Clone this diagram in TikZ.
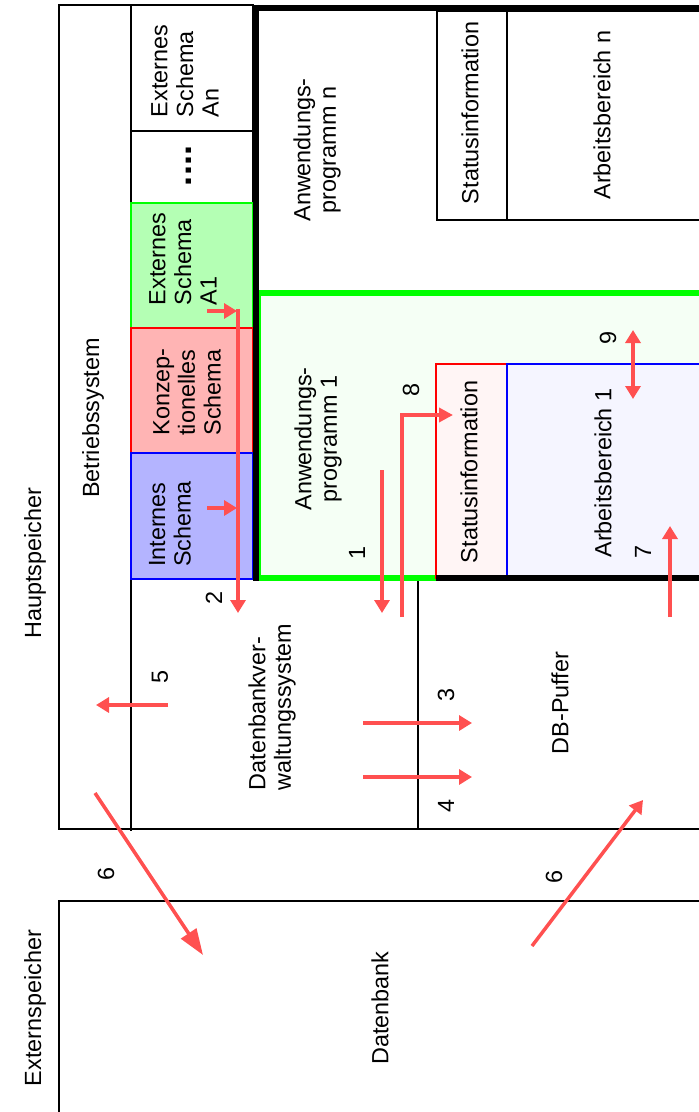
\documentclass[tikz,border=0pt]{standalone}
\usepackage{fontspec}
\setmainfont{Liberation Sans}
\usetikzlibrary{arrows.meta}
\definecolor{arrowred}{RGB}{255,80,80}
\definecolor{brightgreen}{RGB}{0,255,0}
\definecolor{schemagreen}{RGB}{180,255,180}
\definecolor{schemared}{RGB}{255,180,180}
\definecolor{schemablue}{RGB}{180,180,255}
\definecolor{palegreen}{RGB}{245,255,245}
\definecolor{palered}{RGB}{255,245,245}
\definecolor{paleblue}{RGB}{245,245,255}
\begin{document}
\begin{tikzpicture}[x=0.5pt,y=-0.5pt,
  lbl/.style={rotate=90, inner sep=0pt, font=\fontsize{11.7}{12.8}\selectfont},
  lbll/.style={lbl, align=left},
  lblc/.style={lbl, align=center},
  thinline/.style={line width=0.6pt, black},
  thickblack/.style={line width=3pt, black},
  thickgreen/.style={line width=3pt, brightgreen},
  arr/.style={draw=arrowred, line width=1.75pt, -{Triangle[length=6.5pt,width=7.5pt]}},
  arrbig/.style={draw=arrowred, line width=1.75pt, -{Triangle[length=13pt,width=9pt]}},
  arrboth/.style={draw=arrowred, line width=1.75pt, {Triangle[length=6.5pt,width=7.5pt]}-{Triangle[length=6.5pt,width=7.5pt]}},
  arrthick/.style={draw=arrowred, line width=2.4pt, -{Triangle[length=7pt,width=7pt]}}]
\useasboundingbox (0,0) rectangle (699,1112);
\fill[white] (0,0) rectangle (699,1112);

% Hauptspeicher frame
\draw[thinline] (254,5) -- (59,5) -- (59,829) -- (705,829);
\draw[thinline] (131,5) -- (131,831);
\draw[thinline] (418,581) -- (418,829);

% schema column
\draw[thinline] (131,5) rectangle (253,131);
\draw[thinline] (131,131) rectangle (253,203);
\filldraw[fill=schemagreen, draw=brightgreen, line width=0.6pt] (131,203) rectangle (253,328);
\filldraw[fill=schemared, draw=red, line width=0.6pt] (131,328) rectangle (253,453);
\filldraw[fill=schemablue, draw=blue, line width=0.6pt] (131,453) rectangle (253,579);

% Anwendungsprogramm 1
\filldraw[fill=palegreen, draw=brightgreen, line width=0.6pt] (260,293) rectangle (705,578);
\draw[thickgreen] (259,293) -- (705,293);
\draw[thickgreen] (259,578) -- (436,578);

% Anwendungsprogramm n boxes
\draw[thinline] (437,11) rectangle (507,220);
\draw[thinline] (507,11) rectangle (705,220);

% Status / Arbeitsbereich 1
\filldraw[fill=palered, draw=red, line width=0.6pt] (436,364) rectangle (507,578);
\filldraw[fill=paleblue, draw=blue, line width=0.6pt] (507,364) rectangle (705,578);

% thick black borders
\draw[thickblack] (256,5) -- (256,581);
\draw[thickblack] (253,8) -- (705,8);
\draw[thickblack] (436,578) -- (705,578);

% Externspeicher frame
\draw[thinline] (59,1115) -- (59,901) -- (705,901);

% labels
\node[lbl] (hs) at (35,563) {Hauptspeicher};
\node[lbl] (es) at (35,1008) {Externspeicher};
\node[lbl] (bs) at (93,418) {Betriebssystem};
\node[lbll] (esan) at (185,71) {Externes\\Schema\\An};
\node[rotate=90, inner sep=0pt, font=\fontsize{18}{18}\selectfont\bfseries] (dots) at (189,166) {....};
\node[lbll] (esa1) at (183,259) {Externes\\Schema\\A1};
\node[lbll] (konz) at (187,392) {Konzep-\\tionelles\\Schema};
\node[lbll] (ints) at (170,524) {Internes\\Schema};
\node[lblc] (anw1) at (318,439) {Anwendungs-\\programm 1};
\node[lblc] (anwn) at (317,150) {Anwendungs-\\programm n};
\node[lbl] (stn) at (470,113) {Statusinformation};
\node[lbl] (abn) at (602,115) {Arbeitsbereich n};
\node[lbl] (st1) at (469,472) {Statusinformation};
\node[lbl] (ab1) at (603,473) {Arbeitsbereich 1};
\node[lbll] (dbvs) at (272,707) {Datenbankver-\\waltungssystem};
\node[lbl] (dbp) at (560,703) {DB-Puffer};
\node[lbl] (db) at (380,1008) {Datenbank};

\node[lbl] (n1) at (357,553) {1};
\node[lbl] (n2) at (214,598) {2};
\node[lbl] (n3) at (446,695) {3};
\node[lbl] (n4) at (446,806) {4};
\node[lbl] (n5) at (160,677) {5};
\node[lbl] (n6a) at (106,874) {6};
\node[lbl] (n6b) at (554,877) {6};
\node[lbl] (n7) at (643,552) {7};
\node[lbl] (n8) at (411,390) {8};
\node[lbl] (n9) at (608,338) {9};

% arrow coordinates
\coordinate (a2s) at (238,309);
\coordinate (a2e) at (238,613);
\coordinate (a2as) at (207,311);
\coordinate (a2ae) at (237,311);
\coordinate (a2bs) at (207,508);
\coordinate (a2be) at (237,508);
\coordinate (a1s) at (382,470);
\coordinate (a1e) at (382,613);
\coordinate (a8s) at (402,617);
\coordinate (a8e) at (453,415);
\coordinate (a9s) at (633,330);
\coordinate (a9e) at (633,399);
\coordinate (a7s) at (670,617);
\coordinate (a7e) at (670,526);
\coordinate (a5s) at (168,705);
\coordinate (a5e) at (96,705);
\coordinate (a3s) at (363,723);
\coordinate (a3e) at (472,723);
\coordinate (a4s) at (363,777);
\coordinate (a4e) at (472,777);
\coordinate (a6as) at (95,793);
\coordinate (a6ae) at (203,955);
\coordinate (a6bs) at (532,946);
\coordinate (a6be) at (643,800);

% arrows
\draw[arr] (a2as) -- (a2ae);
\draw[arr] (a2bs) -- (a2be);
\draw[arr] (a2s) -- (a2e);
\draw[arr] (a1s) -- (a1e);
\draw[arrthick] (a8s) |- (a8e);
\draw[arrboth] (a9s) -- (a9e);
\draw[arr] (a7s) -- (a7e);
\draw[arr] (a5s) -- (a5e);
\draw[arr] (a3s) -- (a3e);
\draw[arr] (a4s) -- (a4e);
\draw[arrbig] (a6as) -- (a6ae);
\draw[arr] (a6bs) -- (a6be);
\end{tikzpicture}
\end{document}
